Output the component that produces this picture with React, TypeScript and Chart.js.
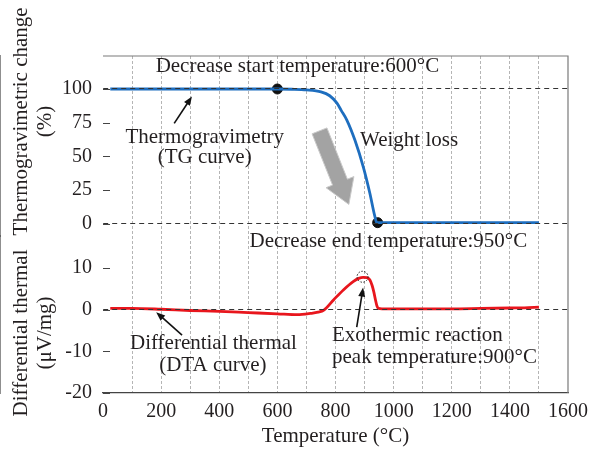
import React, { useEffect, useRef } from 'react';
import { Chart, registerables } from 'chart.js';

Chart.register(...registerables);

// ---- data ----
const tgTemps = [25, 100, 200, 300, 400, 500, 600, 650, 700, 750, 780, 805, 820, 839, 867, 896, 918, 935, 942, 1000, 1200, 1400, 1500];
const tgValues = [100, 100, 100, 100, 100, 100, 100, 99.8, 99.3, 97.8, 95, 89.5, 84, 77, 62, 42, 23, 6, 1, 1, 1, 1, 1];

const dtaTemps = [25, 100, 200, 300, 400, 500, 600, 669, 714, 740, 760, 794, 828, 862, 880, 895, 908, 918, 926, 932, 938, 943, 948, 960, 1000, 1100, 1200, 1300, 1400, 1450, 1500];
const dtaValues = [0.3, 0.3, 0.1, -0.2, -0.4, -0.7, -1.0, -1.2, -0.9, -0.6, -0.1, 2.4, 4.8, 6.8, 7.5, 7.75, 7.7, 7.2, 5.8, 4.2, 2.2, 0.8, 0.3, 0.2, 0.2, 0.2, 0.2, 0.3, 0.4, 0.45, 0.6];

const markerTemps = [600, 945];
const markerValues = [100, 1];

const peakTemp = 893;
const peakValue = 7.9;

const xGridTicks = [0, 100, 200, 300, 400, 500, 600, 700, 800, 900, 1000, 1100, 1200, 1300, 1400, 1500, 1600];
const tgTicks = [0, 25, 50, 75, 100];
const dtaTicks = [-20, -10, 0, 10];

const xTitle = 'Temperature (°C)';
const tgTitle = ['Thermogravimetric change', '(%)'];
const dtaTitle = ['Differential thermal', '(μV/mg)'];

const FONT = "'Liberation Serif', 'Times New Roman', serif";
const TEXT = '#231f20';

function arrow(ctx: CanvasRenderingContext2D, x1: number, y1: number, x2: number, y2: number) {
  const ang = Math.atan2(y2 - y1, x2 - x1);
  const hl = 9, hw = 3.5;
  ctx.save();
  ctx.strokeStyle = '#111';
  ctx.fillStyle = '#111';
  ctx.lineWidth = 1.6;
  ctx.beginPath();
  ctx.moveTo(x1, y1);
  ctx.lineTo(x2 - Math.cos(ang) * hl * 0.8, y2 - Math.sin(ang) * hl * 0.8);
  ctx.stroke();
  ctx.beginPath();
  ctx.moveTo(x2, y2);
  ctx.lineTo(x2 - Math.cos(ang) * hl - Math.sin(ang) * hw, y2 - Math.sin(ang) * hl + Math.cos(ang) * hw);
  ctx.lineTo(x2 - Math.cos(ang) * hl + Math.sin(ang) * hw, y2 - Math.sin(ang) * hl - Math.cos(ang) * hw);
  ctx.closePath();
  ctx.fill();
  ctx.restore();
}

function blockArrow(ctx: CanvasRenderingContext2D, x1: number, y1: number, x2: number, y2: number) {
  const dx = x2 - x1, dy = y2 - y1;
  const len = Math.hypot(dx, dy);
  const ux = dx / len, uy = dy / len;
  const px = -uy, py = ux;
  const sw = 8, hw = 15, hl = 24;
  const bx = x2 - ux * hl, by = y2 - uy * hl;
  ctx.save();
  ctx.beginPath();
  ctx.moveTo(x1 + px * sw, y1 + py * sw);
  ctx.lineTo(bx + px * sw, by + py * sw);
  ctx.lineTo(bx + px * hw, by + py * hw);
  ctx.lineTo(x2, y2);
  ctx.lineTo(bx - px * hw, by - py * hw);
  ctx.lineTo(bx - px * sw, by - py * sw);
  ctx.lineTo(x1 - px * sw, y1 - py * sw);
  ctx.closePath();
  ctx.fillStyle = '#a3a3a3';
  ctx.fill();
  ctx.strokeStyle = '#c9c9c9';
  ctx.lineWidth = 1;
  ctx.stroke();
  ctx.restore();
}

const decorPlugin = {
  id: 'decor',
  afterDraw(chart: any) {
    const { ctx, chartArea: a, scales } = chart;
    const x = scales.x, tg = scales.yTG, dta = scales.yDTA;
    const X = (v: number) => x.getPixelForValue(v);
    const T = (v: number) => tg.getPixelForValue(v);
    const D = (v: number) => dta.getPixelForValue(v);

    // frame
    ctx.save();
    ctx.strokeStyle = '#7a7a7a';
    ctx.lineWidth = 1.2;
    ctx.beginPath();
    ctx.moveTo(a.left, a.top);
    ctx.lineTo(a.right, a.top);
    ctx.lineTo(a.right, a.bottom);
    ctx.stroke();
    // inward tick marks
    ctx.strokeStyle = '#444';
    ctx.lineWidth = 1;
    for (const s of [tg, dta]) {
      for (const t of s.ticks) {
        const py = Math.round(s.getPixelForValue(t.value)) + 0.5;
        ctx.beginPath();
        ctx.moveTo(a.left, py);
        ctx.lineTo(a.left + 7, py);
        ctx.stroke();
      }
    }
    ctx.restore();

    // gray block arrow (weight loss)
    blockArrow(ctx, X(745), T(69), X(846), T(14.5));

    // dotted circle at exothermic peak
    ctx.save();
    ctx.strokeStyle = '#222';
    ctx.lineWidth = 1;
    ctx.setLineDash([1.5, 1.5]);
    ctx.beginPath();
    ctx.arc(X(peakTemp), D(peakValue), 5.5, 0, Math.PI * 2);
    ctx.stroke();
    ctx.restore();

    // pointer arrows
    arrow(ctx, X(245), T(74.5), X(306), T(94.5));
    arrow(ctx, X(272), D(-6.1), X(183), D(-0.6));
    arrow(ctx, X(873), D(-4.2), X(895), D(5.3));

    // texts
    ctx.save();
    ctx.fillStyle = TEXT;
    ctx.font = `21px ${FONT}`;
    ctx.textBaseline = 'middle';
    ctx.textAlign = 'center';
    ctx.fillText('Decrease start temperature:600°C', X(669), T(117));
    ctx.fillText('Thermogravimetry', X(350), T(64.4));
    ctx.fillText('(TG curve)', X(350), T(49.6));
    ctx.fillText('Weight loss', X(1053), T(62.2));
    ctx.fillText('Decrease end temperature:950°C', X(982), T(-13));
    ctx.fillText('Differential thermal', X(380), D(-8));
    ctx.fillText('(DTA curve)', X(378), D(-13.3));
    ctx.textAlign = 'left';
    ctx.fillText('Exothermic reaction', X(788), D(-6.3));
    ctx.fillText('peak temperature:900°C', X(788), D(-11.4));

    // y titles
    const rot = (txt: string, cx: number, cy: number) => {
      ctx.save();
      ctx.translate(cx, cy);
      ctx.rotate(-Math.PI / 2);
      ctx.textAlign = 'center';
      ctx.fillText(txt, 0, 0);
      ctx.restore();
    };
    rot(tgTitle[0], 21, T(76));
    rot(tgTitle[1], 45, T(76));
    rot(dtaTitle[0], 21, D(-5.6));
    rot(dtaTitle[1], 45, D(-5.6));
    ctx.restore();
  },
};

export default function App() {
  const ref = useRef<HTMLCanvasElement | null>(null);

  useEffect(() => {
    if (!ref.current) return;
    Chart.defaults.font.family = FONT;
    Chart.defaults.font.size = 20;
    Chart.defaults.color = TEXT;

    const chart = new Chart(ref.current, {
      type: 'line',
      data: {
        datasets: [
          {
            label: 'DTA',
            data: dtaTemps.map((t, i) => ({ x: t, y: dtaValues[i] })),
            yAxisID: 'yDTA',
            borderColor: '#e8161d',
            borderWidth: 2.8,
            pointRadius: 0,
            cubicInterpolationMode: 'monotone',
          },
          {
            label: 'TG',
            data: tgTemps.map((t, i) => ({ x: t, y: tgValues[i] })),
            yAxisID: 'yTG',
            borderColor: '#1e6ebf',
            borderWidth: 2.8,
            pointRadius: 0,
            cubicInterpolationMode: 'monotone',
          },
          {
            label: 'markers',
            data: markerTemps.map((t, i) => ({ x: t, y: markerValues[i] })),
            yAxisID: 'yTG',
            showLine: false,
            pointRadius: 5,
            pointBackgroundColor: '#111',
            pointBorderColor: '#111',
          },
        ],
      },
      options: {
        responsive: false,
        animation: false,
        events: [],
        layout: { padding: { left: 0, top: 56, right: 21, bottom: 0 } },
        plugins: { legend: { display: false }, tooltip: { enabled: false } },
        scales: {
          x: {
            type: 'linear',
            min: 0,
            max: 1600,
            afterBuildTicks: (s: any) => { s.ticks = xGridTicks.map((v) => ({ value: v })); },
            afterFit: (s: any) => { s.height = 58; },
            ticks: {
              autoSkip: false,
              maxRotation: 0,
              padding: 7,
              color: TEXT,
              font: { size: 20, family: FONT },
              callback: (v: any) => (Number(v) % 200 === 0 ? String(v) : ''),
            },
            grid: {
              drawTicks: false,
              color: (c: any) => (c.tick && (c.tick.value === 0 || c.tick.value === 1600) ? 'rgba(0,0,0,0)' : '#b5b5b5'),
              lineWidth: 1,
            },
            border: { display: true, color: '#444', width: 1.2, dash: [3, 2] },
            title: {
              display: true,
              text: xTitle,
              color: TEXT,
              font: { size: 21, family: FONT, lineHeight: 1.2 },
              padding: { top: 0, bottom: 2 },
            },
          },
          yDTA: {
            type: 'linear',
            position: 'left',
            stack: 'main',
            stackWeight: 157,
            min: -20,
            max: 17.68,
            afterBuildTicks: (s: any) => { s.ticks = dtaTicks.map((v) => ({ value: v })); },
            afterFit: (s: any) => { s.width = 103; },
            ticks: { autoSkip: false, padding: 11, color: TEXT, font: { size: 20, family: FONT } },
            grid: {
              drawTicks: false,
              z: 1,
              color: (c: any) => (c.tick && c.tick.value === 0 ? '#333' : 'rgba(0,0,0,0)'),
              lineWidth: 1,
            },
            border: { display: true, color: '#444', width: 1.2, dash: [5, 4] },
          },
          yTG: {
            type: 'linear',
            position: 'left',
            stack: 'main',
            stackWeight: 180,
            min: -8.89,
            max: 124.44,
            afterBuildTicks: (s: any) => { s.ticks = tgTicks.map((v) => ({ value: v })); },
            afterFit: (s: any) => { s.width = 103; },
            ticks: { autoSkip: false, padding: 11, color: TEXT, font: { size: 20, family: FONT } },
            grid: {
              drawTicks: false,
              z: 1,
              color: (c: any) => (c.tick && (c.tick.value === 0 || c.tick.value === 100) ? '#333' : 'rgba(0,0,0,0)'),
              lineWidth: 1,
            },
            border: { display: true, color: '#444', width: 1.2, dash: [5, 4] },
          },
        },
      } as any,
      plugins: [decorPlugin],
    });
    return () => chart.destroy();
  }, []);

  return (
    <div style={{ position: 'fixed', left: 0, top: 0, width: 595, height: 451, background: '#fff' }}>
      <canvas ref={ref} width={595} height={451} />
    </div>
  );
}
